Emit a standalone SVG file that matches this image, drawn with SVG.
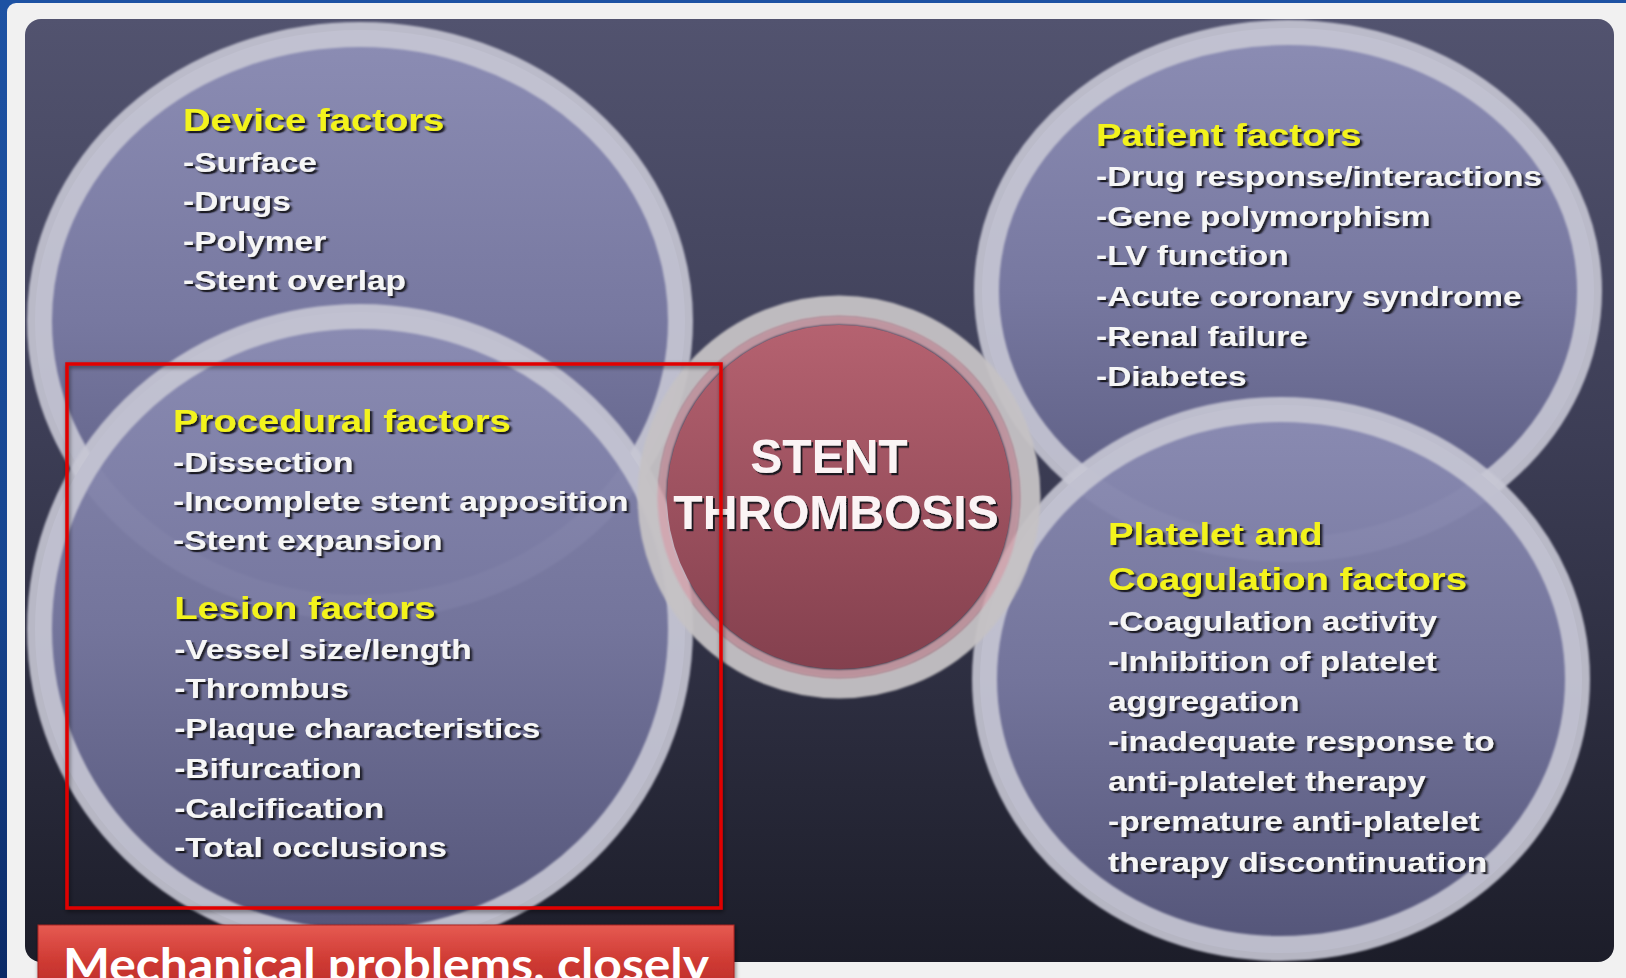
<svg xmlns="http://www.w3.org/2000/svg" width="1626" height="978" viewBox="0 0 1626 978">
  <defs>
    <linearGradient id="frameBlue" x1="0" y1="0" x2="0" y2="1">
      <stop offset="0" stop-color="#1d52a3"/>
      <stop offset="0.6" stop-color="#164590"/>
      <stop offset="1" stop-color="#0b2a66"/>
    </linearGradient>
    <linearGradient id="slideBg" x1="0" y1="0" x2="0" y2="1">
      <stop offset="0" stop-color="#52536f"/>
      <stop offset="0.45" stop-color="#3c3d55"/>
      <stop offset="1" stop-color="#1c1d29"/>
    </linearGradient>
    <linearGradient id="discFill" x1="0" y1="0" x2="0" y2="1">
      <stop offset="0" stop-color="#8c8db4"/>
      <stop offset="0.5" stop-color="#7778a0"/>
      <stop offset="1" stop-color="#56577c"/>
    </linearGradient>
    <linearGradient id="coreFill" x1="0" y1="0" x2="0" y2="1">
      <stop offset="0" stop-color="#b56270"/>
      <stop offset="1" stop-color="#84404e"/>
    </linearGradient>
    <linearGradient id="bannerFill" x1="0" y1="0" x2="0" y2="1">
      <stop offset="0" stop-color="#e65a52"/>
      <stop offset="0.5" stop-color="#cf3b34"/>
      <stop offset="1" stop-color="#b92a26"/>
    </linearGradient>
    <filter id="soft" x="-5%" y="-5%" width="110%" height="110%">
      <feGaussianBlur stdDeviation="1.3"/>
    </filter>
    <filter id="txtShadow" x="-5%" y="-20%" width="110%" height="140%">
      <feDropShadow dx="2" dy="2.2" stdDeviation="0.7" flood-color="#15151f" flood-opacity="0.95"/>
    </filter>
    <filter id="boxShadow" x="-5%" y="-5%" width="110%" height="110%">
      <feDropShadow dx="1" dy="2" stdDeviation="2" flood-color="#000" flood-opacity="0.5"/>
    </filter>
    <clipPath id="slideClip">
      <rect x="25" y="19" width="1589" height="943" rx="16"/>
    </clipPath>
  </defs>
  <style>
    .ring { fill: none; stroke: #c6c7d4; stroke-width: 25; stroke-opacity: 0.9; }
    .disc { fill: url(#discFill); }
    .head { font-family: "Liberation Sans", Arial, sans-serif; font-weight: bold; font-size: 32px; fill: #f3f31c; }
    .item { font-family: "Liberation Sans", Arial, sans-serif; font-weight: bold; font-size: 28px; fill: #f6f6f6; }
    .core { font-family: "Liberation Sans", Arial, sans-serif; font-weight: bold; font-size: 48px; fill: #fbf4f5; text-anchor: middle; }
    .banner { font-family: Lato, "Open Sans", sans-serif; font-weight: bold; font-size: 46px; fill: #ffffff; }
  </style>

  <!-- page frame -->
  <rect x="0" y="0" width="1626" height="978" fill="url(#frameBlue)"/>
  <rect x="7" y="3" width="1640" height="1000" rx="9" fill="#f1f1f1"/>

  <!-- slide -->
  <rect x="25" y="19" width="1589" height="943" rx="16" fill="url(#slideBg)"/>

  <g clip-path="url(#slideClip)">
    <!-- Device factors -->
    <g id="node-device">
      <ellipse class="disc" cx="360" cy="321" rx="325" ry="291"/>
      <ellipse class="ring" cx="360" cy="321" rx="320.5" ry="286.5" filter="url(#soft)"/>
      <g filter="url(#txtShadow)" transform="translate(183,0) scale(1.195,1)">
        <text class="head" x="0" y="131">Device factors</text>
        <text class="item" x="0" y="172">-Surface</text>
        <text class="item" x="0" y="211">-Drugs</text>
        <text class="item" x="0" y="251">-Polymer</text>
        <text class="item" x="0" y="290">-Stent overlap</text>
      </g>
    </g>

    <!-- Procedural / Lesion factors -->
    <g id="node-procedural">
      <ellipse class="disc" cx="360" cy="629" rx="325" ry="317" opacity="0.95"/>
      <ellipse class="ring" cx="360" cy="629" rx="320.5" ry="312.5" filter="url(#soft)"/>
      <g filter="url(#txtShadow)" transform="translate(173,0) scale(1.195,1)">
        <text class="head" x="0" y="432">Procedural factors</text>
        <text class="item" x="0" y="472">-Dissection</text>
        <text class="item" x="0" y="511">-Incomplete stent apposition</text>
        <text class="item" x="0" y="550">-Stent expansion</text>
        <text class="head" x="1" y="619">Lesion factors</text>
        <text class="item" x="1" y="659">-Vessel size/length</text>
        <text class="item" x="1" y="698">-Thrombus</text>
        <text class="item" x="1" y="738">-Plaque characteristics</text>
        <text class="item" x="1" y="778">-Bifurcation</text>
        <text class="item" x="1" y="818">-Calcification</text>
        <text class="item" x="1" y="857">-Total occlusions</text>
      </g>
    </g>

    <!-- Patient factors -->
    <g id="node-patient">
      <ellipse class="disc" cx="1288" cy="291" rx="306" ry="263"/>
      <ellipse class="ring" cx="1288" cy="291" rx="301.5" ry="258.5" filter="url(#soft)"/>
      <g filter="url(#txtShadow)" transform="translate(1096,0) scale(1.195,1)">
        <text class="head" x="0" y="146">Patient factors</text>
        <text class="item" x="0" y="186">-Drug response/interactions</text>
        <text class="item" x="0" y="226">-Gene polymorphism</text>
        <text class="item" x="0" y="265">-LV function</text>
        <text class="item" x="0" y="306">-Acute coronary syndrome</text>
        <text class="item" x="0" y="346">-Renal failure</text>
        <text class="item" x="0" y="386">-Diabetes</text>
      </g>
    </g>

    <!-- Platelet and coagulation factors -->
    <g id="node-platelet">
      <ellipse class="disc" cx="1281" cy="679" rx="301" ry="274" opacity="0.95"/>
      <ellipse class="ring" cx="1281" cy="679" rx="296.5" ry="269.5" filter="url(#soft)"/>
      <g filter="url(#txtShadow)" transform="translate(1108,0) scale(1.195,1)">
        <text class="head" x="0" y="545">Platelet and</text>
        <text class="head" x="0" y="590">Coagulation factors</text>
        <text class="item" x="0" y="631">-Coagulation activity</text>
        <text class="item" x="0" y="671">-Inhibition of platelet</text>
        <text class="item" x="0" y="711">aggregation</text>
        <text class="item" x="0" y="751">-inadequate response to</text>
        <text class="item" x="0" y="791">anti-platelet therapy</text>
        <text class="item" x="0" y="831">-premature anti-platelet</text>
        <text class="item" x="0" y="872">therapy discontinuation</text>
      </g>
    </g>

    <!-- central node -->
    <g id="node-stent-thrombosis">
      <circle cx="839" cy="497" r="191" fill="none" stroke="#c5c2c4" stroke-width="21" stroke-opacity="0.95" filter="url(#soft)"/>
      <circle cx="839" cy="497" r="177" fill="none" stroke="#d3a3ac" stroke-width="9" stroke-opacity="0.85" filter="url(#soft)"/>
      <circle cx="839" cy="497" r="172" fill="url(#coreFill)"/>
      <g filter="url(#txtShadow)">
        <text class="core" x="829" y="473">STENT</text>
        <text class="core" x="836" y="529">THROMBOSIS</text>
      </g>
    </g>
  </g>

  <!-- no connectors in this figure -->
  <g id="connectors"/>

  <!-- highlight frame around mechanical factors -->
  <g id="highlight">
    <rect x="67" y="364" width="654" height="544" fill="none" stroke="#e00000" stroke-width="3.5" filter="url(#boxShadow)"/>
  </g>

  <!-- caption banner -->
  <g id="caption">
    <rect x="38" y="925" width="696" height="70" fill="url(#bannerFill)" stroke="#a82420" stroke-width="1" filter="url(#boxShadow)"/>
    <text class="banner" x="63" y="981" textLength="646" lengthAdjust="spacingAndGlyphs">Mechanical problems, closely</text>
  </g>
</svg>
